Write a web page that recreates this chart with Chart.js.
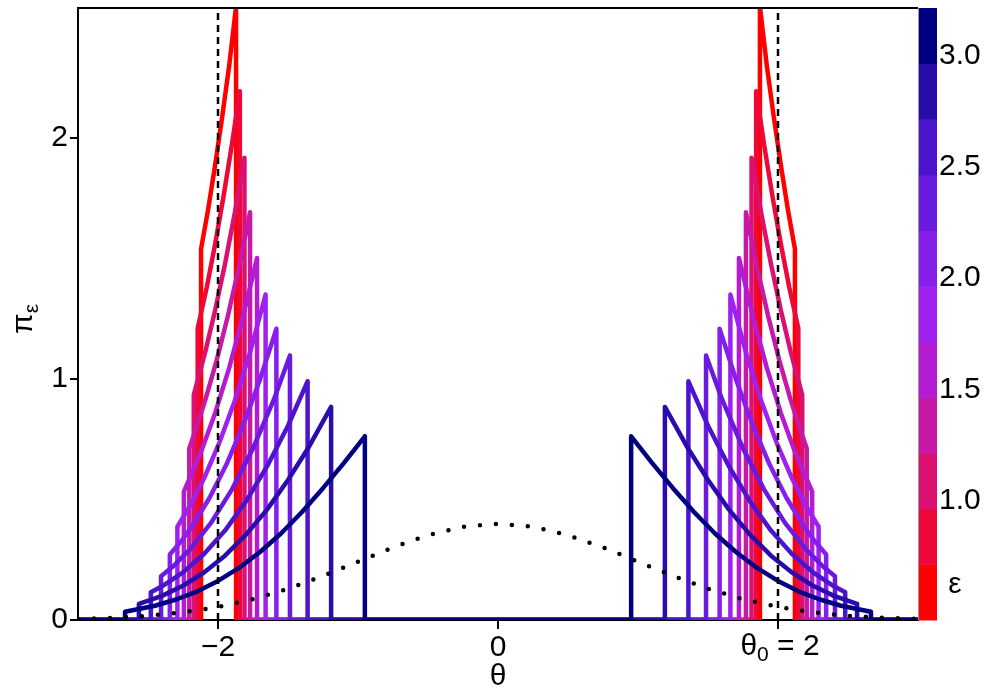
<!DOCTYPE html>
<html>
<head>
<meta charset="utf-8">
<script src="https://cdn.jsdelivr.net/npm/chart.js@4.4.0/dist/chart.umd.min.js"></script>
<style>
  html, body { margin: 0; padding: 0; background: #fff; }
  #wrap { width: 1000px; height: 700px; position: relative; }
</style>
</head>
<body>
<div id="wrap"><canvas id="chart"></canvas></div>
<script>
// tolerance levels, one curve each, red (small) to navy (large)
const epsLevels = [0.5, 0.6, 0.72, 0.864, 1.037, 1.244, 1.493, 1.792, 2.15, 2.58, 3.096];
const epsColors = ['#FF0000', '#EE083A', '#DC1070', '#C818A6', '#B41CD4', '#A020F0',
                   '#861EEC', '#6A1AE0', '#4C14CC', '#2A0CAC', '#000080'];

// colour bar bins and labels
const cbBreaks = [0.5, 0.75, 1.0, 1.25, 1.5, 1.75, 2.0, 2.25, 2.5, 2.75, 3.0, 3.25];
const cbTicks = [1.0, 1.5, 2.0, 2.5, 3.0];

// right half of each curve (theta > 0), the left half is its mirror
const thetaRight = [
  [1.871, 1.92, 1.97, 2.02, 2.07, 2.121],
  [1.844, 1.90, 1.96, 2.02, 2.08, 2.145],
  [1.811, 1.88, 1.95, 2.02, 2.09, 2.173],
  [1.771, 1.85, 1.93, 2.01, 2.09, 2.15, 2.205],
  [1.721, 1.82, 1.92, 2.02, 2.12, 2.244],
  [1.660, 1.77, 1.88, 1.99, 2.10, 2.20, 2.290],
  [1.583, 1.70, 1.82, 1.94, 2.06, 2.18, 2.26, 2.344],
  [1.486, 1.60, 1.75, 1.90, 2.05, 2.20, 2.32, 2.407],
  [1.360, 1.50, 1.65, 1.80, 1.95, 2.10, 2.25, 2.40, 2.480],
  [1.192, 1.35, 1.50, 1.65, 1.80, 1.95, 2.10, 2.25, 2.40, 2.565],
  [0.951, 1.10, 1.25, 1.40, 1.55, 1.70, 1.85, 2.00, 2.15, 2.30, 2.45, 2.664]
];
const piRight = [
  [2.545, 2.300, 2.087, 1.889, 1.705, 1.540],
  [2.194, 1.975, 1.759, 1.561, 1.381, 1.210],
  [1.918, 1.689, 1.477, 1.286, 1.114, 0.934],
  [1.692, 1.466, 1.260, 1.076, 0.914, 0.805, 0.713],
  [1.502, 1.262, 1.046, 0.859, 0.699, 0.533],
  [1.350, 1.112, 0.910, 0.736, 0.587, 0.474, 0.387],
  [1.208, 0.998, 0.808, 0.645, 0.507, 0.393, 0.329, 0.272],
  [1.097, 0.916, 0.712, 0.542, 0.403, 0.293, 0.223, 0.182],
  [0.990, 0.806, 0.637, 0.492, 0.371, 0.274, 0.198, 0.140, 0.115],
  [0.884, 0.719, 0.581, 0.458, 0.354, 0.267, 0.197, 0.142, 0.100, 0.067],
  [0.762, 0.652, 0.547, 0.448, 0.359, 0.282, 0.216, 0.162, 0.118, 0.085, 0.059, 0.034]
];

// prior density (dotted)
const priorTheta = [-3, -2.75, -2.5, -2.25, -2, -1.75, -1.5, -1.25, -1, -0.75, -0.5, -0.25, 0,
                    0.25, 0.5, 0.75, 1, 1.25, 1.5, 1.75, 2, 2.25, 2.5, 2.75, 3];
const priorDensity = [0.0044, 0.0091, 0.0175, 0.0317, 0.054, 0.0863, 0.1295, 0.1826, 0.242, 0.3011, 0.3521, 0.3867, 0.3989,
                      0.3867, 0.3521, 0.3011, 0.242, 0.1826, 0.1295, 0.0863, 0.054, 0.0317, 0.0175, 0.0091, 0.0044];

const xTicks = [-2, 0, 2];
const yTicks = [0, 1, 2];
const theta0 = 2;
const xMin = -3, xMax = 3;
const yMax = 2.539;

const FONT = "'Liberation Sans', Arial, Helvetica, sans-serif";

function curvePoints(th, pi) {
  const n = th.length;
  const pts = [{ x: xMin, y: 0 }, { x: -th[n - 1], y: 0 }];
  for (let i = n - 1; i >= 0; i--) pts.push({ x: -th[i], y: pi[i] });
  pts.push({ x: -th[0], y: 0 });
  pts.push({ x: th[0], y: 0 });
  for (let i = 0; i < n; i++) pts.push({ x: th[i], y: pi[i] });
  pts.push({ x: th[n - 1], y: 0 });
  pts.push({ x: xMax, y: 0 });
  return pts;
}

// Chart.js draws dataset 0 last, so: prior on top, then dashed lines, then navy ... red
const datasets = [];
datasets.push({
  label: 'prior',
  data: priorTheta.map((t, i) => ({ x: t, y: priorDensity[i] })),
  borderColor: '#000',
  borderWidth: 4.5,
  borderDash: [0, 16],
  borderCapStyle: 'round'
});
[-theta0, theta0].forEach(t => {
  datasets.push({
    label: 'theta0',
    data: [{ x: t, y: 0 }, { x: t, y: yMax }],
    borderColor: '#000',
    borderWidth: 2.5,
    borderDash: [7, 5]
  });
});
for (let k = epsLevels.length - 1; k >= 0; k--) {
  datasets.push({
    label: 'eps ' + epsLevels[k],
    data: curvePoints(thetaRight[k], piRight[k]),
    borderColor: epsColors[k],
    borderWidth: 4.5,
    borderJoinStyle: 'round'
  });
}

const decor = {
  id: 'decor',
  beforeDatasetsDraw(chart) {
    const ctx = chart.ctx;
    const a = chart.chartArea;
    const cb = chart.scales.cb;
    ctx.save();
    // colour bar
    for (let i = 0; i < epsColors.length; i++) {
      const y1 = cb.getPixelForValue(cbBreaks[i]);
      const y2 = cb.getPixelForValue(cbBreaks[i + 1]);
      ctx.fillStyle = epsColors[i];
      ctx.fillRect(a.right, y2, 19, y1 - y2 + 0.5);
    }
    ctx.restore();
  },
  afterDraw(chart) {
    const ctx = chart.ctx;
    const a = chart.chartArea;
    const cb = chart.scales.cb;
    const xs = chart.scales.x;
    ctx.save();
    // frame: top and right
    ctx.strokeStyle = '#000';
    ctx.lineWidth = 2;
    ctx.beginPath();
    ctx.moveTo(a.left - 1, a.top);
    ctx.lineTo(a.right, a.top);
    ctx.stroke();
    ctx.strokeStyle = '#999';
    ctx.lineWidth = 1;
    ctx.beginPath();
    ctx.moveTo(a.right + 0.5, a.top);
    ctx.lineTo(a.right + 0.5, a.bottom);
    ctx.stroke();

    ctx.fillStyle = '#000';
    // epsilon label in the colour bar
    ctx.font = '30px ' + FONT;
    ctx.textAlign = 'center';
    ctx.textBaseline = 'middle';
    ctx.fillText('\u03b5', a.right + 37, cb.getPixelForValue(0.66));

    // x title
    ctx.fillText('\u03b8', (a.left + a.right) / 2, 677);

    // theta_0 = 2 tick label
    const big = '30px ' + FONT, small = '21px ' + FONT;
    ctx.textAlign = 'left';
    ctx.textBaseline = 'alphabetic';
    ctx.font = big;
    const w1 = ctx.measureText('\u03b8').width;
    const w3 = ctx.measureText(' = 2').width;
    ctx.font = small;
    const w2 = ctx.measureText('0').width;
    let x = xs.getPixelForValue(theta0) - (w1 + w2 + w3) / 2 + 2;
    const base = 655;
    ctx.font = big;
    ctx.fillText('\u03b8', x, base);
    ctx.font = small;
    ctx.fillText('0', x + w1, base + 6);
    ctx.font = big;
    ctx.fillText(' = 2', x + w1 + w2, base);

    // y title pi_eps, rotated
    ctx.translate(32, 334);
    ctx.rotate(-Math.PI / 2);
    ctx.font = big;
    ctx.fillText('\u03c0', 0, 0);
    const wp = ctx.measureText('\u03c0').width;
    ctx.font = small;
    ctx.fillText('\u03b5', wp, 6);
    ctx.restore();
  }
};

new Chart(document.getElementById('chart'), {
  type: 'scatter',
  data: { datasets: datasets },
  options: {
    responsive: true,
    maintainAspectRatio: false,
    animation: false,
    layout: { padding: { top: 8, left: 0, right: 0, bottom: 0 } },
    elements: { point: { radius: 0 }, line: { tension: 0, fill: false } },
    datasets: { scatter: { showLine: true, pointRadius: 0 } },
    plugins: { legend: { display: false }, tooltip: { enabled: false } },
    scales: {
      x: {
        type: 'linear',
        min: xMin,
        max: xMax,
        afterBuildTicks: s => { s.ticks = xTicks.map(v => ({ value: v })); },
        afterFit: s => { s.height = 80; s.paddingLeft = 0; s.paddingRight = 0; },
        grid: { drawOnChartArea: false, drawTicks: true, tickLength: 9, color: '#000', lineWidth: 2 },
        border: { display: true, color: '#000', width: 2 },
        ticks: {
          autoSkip: false,
          maxRotation: 0,
          padding: 1,
          color: '#000',
          font: { family: FONT, size: 30 },
          callback: v => v === theta0 ? '' : (v < 0 ? '\u2212' + Math.abs(v) : String(v))
        }
      },
      y: {
        type: 'linear',
        min: 0,
        max: yMax,
        afterBuildTicks: s => { s.ticks = yTicks.map(v => ({ value: v })); },
        afterFit: s => { s.width = 78; s.paddingTop = 0; s.paddingBottom = 0; },
        grid: { drawOnChartArea: false, drawTicks: true, tickLength: 8, color: '#000', lineWidth: 2 },
        border: { display: true, color: '#000', width: 2 },
        ticks: {
          padding: 2,
          color: '#000',
          font: { family: FONT, size: 30 },
          callback: v => String(v)
        }
      },
      cb: {
        type: 'linear',
        axis: 'y',
        position: 'right',
        min: cbBreaks[0],
        max: cbBreaks[cbBreaks.length - 1],
        afterBuildTicks: s => { s.ticks = cbTicks.map(v => ({ value: v })); },
        afterFit: s => { s.width = 82; s.paddingTop = 0; s.paddingBottom = 0; },
        grid: { display: false, drawTicks: false },
        border: { display: false },
        ticks: {
          padding: 21,
          labelOffset: -8,
          color: '#000',
          font: { family: FONT, size: 30 },
          callback: v => v.toFixed(1)
        }
      }
    }
  },
  plugins: [decor]
});
</script>
</body>
</html>
